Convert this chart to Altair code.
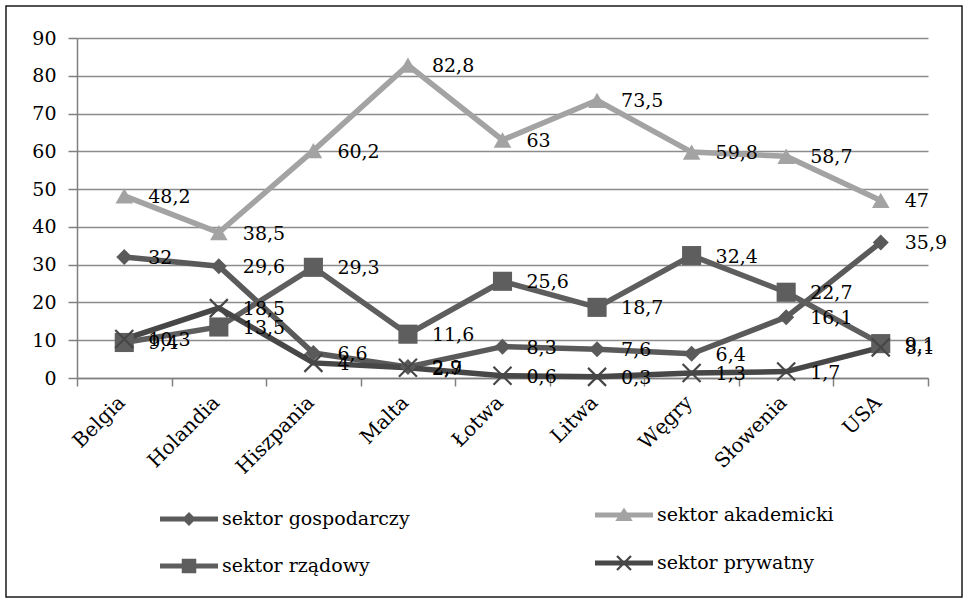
import math
import altair as alt
import pandas as pd

countries = ["Belgia", "Holandia", "Hiszpania", "Malta", "Łotwa", "Litwa", "Węgry", "Słowenia", "USA"]
series_names = ["sektor gospodarczy", "sektor akademicki", "sektor rządowy", "sektor prywatny"]
gosp = [32, 29.6, 6.6, 2.9, 8.3, 7.6, 6.4, 16.1, 35.9]
akad = [48.2, 38.5, 60.2, 82.8, 63, 73.5, 59.8, 58.7, 47]
rzad = [9.4, 13.5, 29.3, 11.6, 25.6, 18.7, 32.4, 22.7, 9.1]
pryw = [10.3, 18.5, 4, 2.7, 0.6, 0.3, 1.3, 1.7, 8.1]
y_ticks = [0, 10, 20, 30, 40, 50, 60, 70, 80, 90]

rows = []
for s, vals in zip(series_names, [gosp, akad, rzad, pryw]):
    for c, v in zip(countries, vals):
        rows.append({"kraj": c, "seria": s, "wartosc": v,
                     "etykieta": f"{v:g}".replace(".", ",")})
df = pd.DataFrame(rows)

colors = ["#5a5a5a", "#a3a3a3", "#5e5e5e", "#474747"]
FONT = "DejaVu Serif"

W, H = 851, 340
PAD = {"left": 77, "top": 38, "right": 964 - 77 - W, "bottom": 599 - 38 - H}

# ---- legend symbol paths (unit square -1..1) ----
t = 0.09
bar = f"M-1,{-t}H1V{t}H-1Z"
def diamond(r):
    return f"M0,{-r}L{r},0L0,{r}L{-r},0Z"
def square(r):
    return f"M{-r},{-r}H{r}V{r}H{-r}Z"
def tri(r):
    h = r * 0.85
    return f"M0,{-h}L{r},{h*0.8}L{-r},{h*0.8}Z"
def xbars(a, w):
    d = w / math.sqrt(2)
    p1 = f"M{-a+d},{-a-d}L{a+d},{a-d}L{a-d},{a+d}L{-a-d},{-a+d}Z"
    p2 = f"M{a+d},{-a+d}L{-a+d},{a+d}L{-a-d},{a-d}L{a-d},{-a-d}Z"
    return p1 + p2
legend_paths = [bar + diamond(0.24), bar + tri(0.3), bar + square(0.25), bar + xbars(0.24, 0.04)]
legend_pos = [(83, 452), (518, 448), (83, 499), (518, 496)]
point_shapes = ["diamond", "triangle-up", "square", "square"]
point_sizes = [256, 420, 380, 0]

x_enc = alt.X("kraj:N", sort=countries,
              scale=alt.Scale(type="band", paddingInner=0, paddingOuter=0),
              axis=alt.Axis(title=None, labelAngle=-45, labelAlign="right", labelBaseline="top",
                            labelFont=FONT, labelFontSize=20, labelColor="black", labelPadding=6,
                            labelOffset=-10,
                            tickBand="extent", tickSize=8, tickColor="#808080", tickWidth=1.5,
                            domainColor="#808080", domainWidth=1.5, grid=False))
y_enc = alt.Y("wartosc:Q", scale=alt.Scale(domain=[0, 90], nice=False, zero=True),
              axis=alt.Axis(title=None, values=y_ticks, grid=True, gridColor="#8c8c8c", gridWidth=1.5,
                            domainColor="#808080", domainWidth=1.5, tickColor="#808080", tickWidth=1.5,
                            tickSize=9, labelFont=FONT, labelFontSize=19, labelColor="black",
                            labelPadding=12))
color_scale = alt.Scale(domain=series_names, range=colors)

base = alt.Chart(df)

lines = base.mark_line(strokeWidth=5.5).encode(
    x=x_enc, y=y_enc, color=alt.Color("seria:N", scale=color_scale, legend=None))

filled_pts = base.transform_filter(alt.datum.seria != "sektor prywatny").mark_point(
    filled=True, opacity=1).encode(
    x=x_enc, y=y_enc,
    color=alt.Color("seria:N", scale=color_scale, legend=None),
    size=alt.Size("seria:N", scale=alt.Scale(domain=series_names, range=point_sizes), legend=None),
    shape=alt.Shape("seria:N", scale=alt.Scale(domain=series_names, range=point_shapes), legend=None))

x_pts = base.transform_filter(alt.datum.seria == "sektor prywatny").mark_point(
    shape="M-1,-1L1,1M-1,1L1,-1", size=324, strokeWidth=2.2, filled=False, opacity=1).encode(
    x=x_enc, y=y_enc, color=alt.Color("seria:N", scale=color_scale, legend=None))

labels = base.mark_text(align="left", baseline="middle", dx=24, dy=1, font=FONT,
                        fontSize=19, color="black").encode(
    x=x_enc, y=y_enc, text="etykieta:N")

legend_layers = []
for s, c, p, (lx, ly) in zip(series_names, colors, legend_paths, legend_pos):
    legend_layers.append(
        base.transform_filter("false").mark_point(filled=True, color=c, opacity=1).encode(
            x=x_enc, y=y_enc,
            shape=alt.Shape("seria:N", scale=alt.Scale(domain=[s], range=[p]),
                            legend=alt.Legend(title=None, orient="none", legendX=lx, legendY=ly,
                                              symbolSize=3364, symbolStrokeWidth=0, symbolOpacity=1,
                                              symbolFillColor=c,
                                              labelFont=FONT, labelFontSize=19, labelColor="black",
                                              labelOffset=4, labelLimit=400))))

frame = alt.Chart(pd.DataFrame({"a": [0]})).mark_rect(
    filled=False, stroke="#1a1a1a", strokeWidth=1.5).encode(
    x=alt.value(-71), x2=alt.value(W + 34), y=alt.value(-32), y2=alt.value(H + 219))

chart = alt.layer(frame, lines, filled_pts, x_pts, labels, *legend_layers).resolve_scale(
    shape="independent").properties(
    width=W, height=H, padding=PAD, autosize=alt.AutoSizeParams(type="none"),
    background="white").configure_view(stroke=None)

chart.save("out.html", embed_options={"renderer": "svg", "actions": False})
